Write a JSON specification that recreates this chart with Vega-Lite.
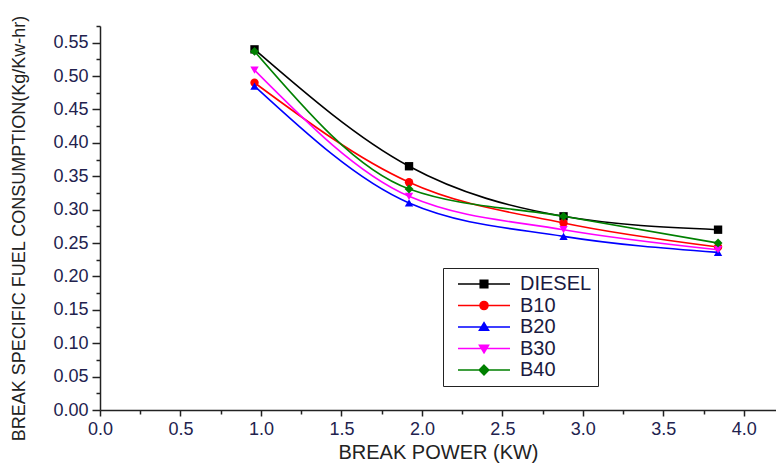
{
  "$schema": "https://vega.github.io/schema/vega-lite/v6.json",
  "width": 676,
  "height": 384,
  "autosize": {"type": "none"},
  "padding": {"left": 100, "top": 26, "right": 0, "bottom": 54},
  "background": "white",
  "config": {
    "view": {"stroke": null},
    "font": "Liberation Sans",
    "axis": {"grid": false, "domainColor": "#222", "domainWidth": 1.5, "tickColor": "#222", "tickWidth": 1.5, "labelFont": "Liberation Sans", "titleFont": "Liberation Sans", "labelColor": "#22224e", "titleColor": "#222", "titleFontWeight": "normal"}
  },
  "data": {
    "values": [
      {"power": 0.96, "bsfc": 0.540, "fuel": "DIESEL"},
      {"power": 1.92, "bsfc": 0.365, "fuel": "DIESEL"},
      {"power": 2.88, "bsfc": 0.290, "fuel": "DIESEL"},
      {"power": 3.84, "bsfc": 0.270, "fuel": "DIESEL"},
      {"power": 0.96, "bsfc": 0.490, "fuel": "B10"},
      {"power": 1.92, "bsfc": 0.341, "fuel": "B10"},
      {"power": 2.88, "bsfc": 0.280, "fuel": "B10"},
      {"power": 3.84, "bsfc": 0.244, "fuel": "B10"},
      {"power": 0.96, "bsfc": 0.485, "fuel": "B20"},
      {"power": 1.92, "bsfc": 0.310, "fuel": "B20"},
      {"power": 2.88, "bsfc": 0.260, "fuel": "B20"},
      {"power": 3.84, "bsfc": 0.236, "fuel": "B20"},
      {"power": 0.96, "bsfc": 0.509, "fuel": "B30"},
      {"power": 1.92, "bsfc": 0.320, "fuel": "B30"},
      {"power": 2.88, "bsfc": 0.270, "fuel": "B30"},
      {"power": 3.84, "bsfc": 0.240, "fuel": "B30"},
      {"power": 0.96, "bsfc": 0.537, "fuel": "B40"},
      {"power": 1.92, "bsfc": 0.331, "fuel": "B40"},
      {"power": 2.88, "bsfc": 0.290, "fuel": "B40"},
      {"power": 3.84, "bsfc": 0.250, "fuel": "B40"}
    ]
  },
  "layer": [
    {
      "transform": [{"filter": "datum.fuel == 'DIESEL'"}],
      "mark": {"type": "line", "interpolate": "monotone", "strokeWidth": 1.6, "color": "#000000",
        "point": {"shape": "square", "filled": true, "size": 70, "color": "#000000"}},
      "encoding": {
        "x": {"field": "power", "type": "quantitative", "scale": {"domain": [0, 4.2], "nice": false, "zero": false},
          "axis": {"values": [0, 0.5, 1, 1.5, 2, 2.5, 3, 3.5, 4], "format": ".1f", "labelFontSize": 18, "tickSize": 6, "labelPadding": 4, "labelFlush": false, "title": "BREAK POWER (KW)", "titleFontSize": 20, "titlePadding": 4}},
        "y": {"field": "bsfc", "type": "quantitative", "scale": {"domain": [0, 0.575], "nice": false, "zero": false},
          "axis": {"values": [0, 0.05, 0.1, 0.15, 0.2, 0.25, 0.3, 0.35, 0.4, 0.45, 0.5, 0.55], "format": ".2f", "labelFontSize": 18, "tickSize": 8, "labelPadding": 4, "title": "BREAK SPECIFIC FUEL CONSUMPTION(Kg/Kw-hr)", "titleFontSize": 18, "titleX": -81, "titleY": 202, "titleBaseline": "middle", "titleAngle": -90}},
        "order": {"field": "power"}
      }
    },
    {
      "transform": [{"filter": "datum.fuel == 'B10'"}],
      "mark": {"type": "line", "interpolate": "monotone", "strokeWidth": 1.6, "color": "#ff0000",
        "point": {"shape": "circle", "filled": true, "size": 70, "color": "#ff0000"}},
      "encoding": {
        "x": {"field": "power", "type": "quantitative", "axis": null},
        "y": {"field": "bsfc", "type": "quantitative", "axis": null},
        "order": {"field": "power"}
      }
    },
    {
      "transform": [{"filter": "datum.fuel == 'B20'"}],
      "mark": {"type": "line", "interpolate": "monotone", "strokeWidth": 1.6, "color": "#0000ff",
        "point": {"shape": "triangle-up", "filled": true, "size": 70, "color": "#0000ff"}},
      "encoding": {
        "x": {"field": "power", "type": "quantitative", "axis": null},
        "y": {"field": "bsfc", "type": "quantitative", "axis": null},
        "order": {"field": "power"}
      }
    },
    {
      "transform": [{"filter": "datum.fuel == 'B30'"}],
      "mark": {"type": "line", "interpolate": "monotone", "strokeWidth": 1.6, "color": "#ff00ff",
        "point": {"shape": "triangle-down", "filled": true, "size": 70, "color": "#ff00ff"}},
      "encoding": {
        "x": {"field": "power", "type": "quantitative", "axis": null},
        "y": {"field": "bsfc", "type": "quantitative", "axis": null},
        "order": {"field": "power"}
      }
    },
    {
      "transform": [{"filter": "datum.fuel == 'B40'"}],
      "mark": {"type": "line", "interpolate": "monotone", "strokeWidth": 1.6, "color": "#008000",
        "point": {"shape": "diamond", "filled": true, "size": 80, "color": "#008000"}},
      "encoding": {
        "x": {"field": "power", "type": "quantitative", "axis": null},
        "y": {"field": "bsfc", "type": "quantitative", "axis": null},
        "order": {"field": "power"}
      }
    },
    {
      "mark": {"type": "point", "filled": true, "opacity": 0},
      "encoding": {
        "x": {"field": "power", "type": "quantitative",
          "axis": {"values": [0.25, 0.75, 1.25, 1.75, 2.25, 2.75, 3.25, 3.75], "labels": false, "domain": false, "tickSize": 4, "title": null, "orient": "bottom"}},
        "y": {"field": "bsfc", "type": "quantitative",
          "axis": {"values": [0.025, 0.075, 0.125, 0.175, 0.225, 0.275, 0.325, 0.375, 0.425, 0.475, 0.525, 0.575], "labels": false, "domain": false, "tickSize": 4, "title": null, "orient": "left"}},
        "fill": {"field": "fuel", "type": "nominal",
          "scale": {"domain": ["DIESEL", "B10", "B20", "B30", "B40"], "range": ["#000000", "#ff0000", "#0000ff", "#ff00ff", "#008000"]},
          "legend": {"title": null, "orient": "none", "legendX": 343, "legendY": 242}},
        "stroke": {"field": "fuel", "type": "nominal",
          "scale": {"domain": ["DIESEL", "B10", "B20", "B30", "B40"], "range": ["#000000", "#ff0000", "#0000ff", "#ff00ff", "#008000"]},
          "legend": {"title": null, "orient": "none", "legendX": 343, "legendY": 242}},
        "shape": {"field": "fuel", "type": "nominal",
          "scale": {"domain": ["DIESEL", "B10", "B20", "B30", "B40"], "range": [
            "M-5.2,0H5.2M-0.75,-0.75H0.75V0.75H-0.75Z",
            "M-5.2,0H5.2M-0.8,0A0.8,0.8 0 1,0 0.8,0A0.8,0.8 0 1,0 -0.8,0Z",
            "M-5.2,0H5.2M0,-0.85L0.9,0.65H-0.9Z",
            "M-5.2,0H5.2M0,0.85L0.9,-0.65H-0.9Z",
            "M-5.2,0H5.2M0,-0.95L0.95,0L0,0.95L-0.95,0Z"
          ]},
          "legend": {
            "title": null, "orient": "none", "legendX": 343, "legendY": 242,
            "strokeColor": "#222", "padding": 6, "symbolSize": 100, "symbolStrokeWidth": 1.6,
            "symbolOpacity": 1, "symbolOffset": 25, "labelOffset": 26,
            "labelFontSize": 20, "labelFont": "Liberation Sans", "labelColor": "#1a1a40", "rowPadding": 1.5
          }
        }
      }
    }
  ],
  "resolve": {"axis": {"x": "independent", "y": "independent"}}
}
